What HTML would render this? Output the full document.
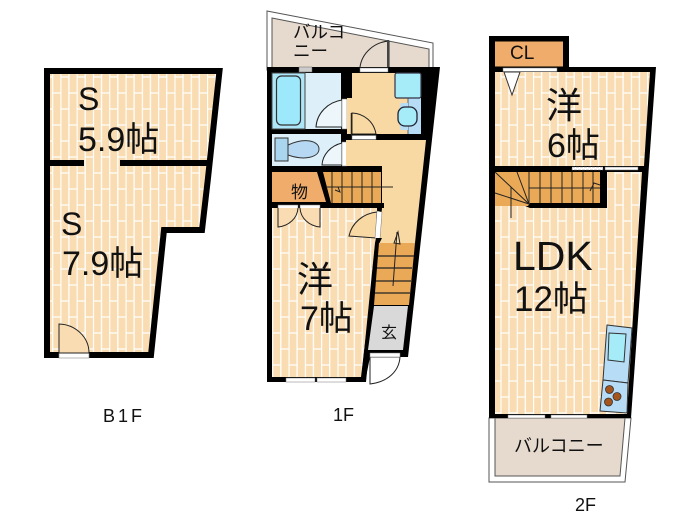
<!DOCTYPE html>
<html><head><meta charset="utf-8"><style>
html,body{margin:0;padding:0;background:#fff;width:700px;height:525px;overflow:hidden}
svg{display:block}
text{font-family:"Liberation Sans","Noto Sans CJK JP",sans-serif;fill:#111}
</style></head><body>
<svg width="700" height="525" viewBox="0 0 700 525" xmlns="http://www.w3.org/2000/svg">
<defs>
<pattern id="fl" width="16.3" height="32" patternUnits="userSpaceOnUse" x="44" y="69">
<rect width="16.3" height="32" fill="#f9dcb2"/>
<path d="M0.5 0V32M8.6 0V32" stroke="#fff" stroke-width="1.300"/>
<path d="M0 8H8.200M8.200 24H16.300" stroke="#fff" stroke-width="1.300"/>
</pattern>
</defs>

<!-- B1F -->
<path d="M47 71H219.500L208 178L202 230H164L151 355H47Z" fill="url(#fl)" stroke="#000" stroke-width="6"/>
<rect x="49" y="160" width="35" height="6" fill="#000"/>
<rect x="120" y="160" width="89" height="6" fill="#000"/>
<rect x="59" y="353" width="30" height="5" fill="#fff" stroke="#888" stroke-width=".6"/>
<path d="M59 353V324A31 29 0 0 1 89 353Z" fill="#f9dcb2" stroke="#222" stroke-width="1"/>
<text x="78" y="110" font-size="32">S</text>
<text x="78" y="151" font-size="34">5.9帖</text>
<text x="61" y="235" font-size="32">S</text>
<text x="62" y="275" font-size="34">7.9帖</text>
<text x="103" y="422" font-size="18" letter-spacing="3">B1F</text>

<!-- 1F balcony -->
<path d="M267 11L433 43V70H267Z" fill="#fff" stroke="#555" stroke-width="1"/>
<path d="M272 18L429 49V70H272Z" fill="#e6d9cd" stroke="#555" stroke-width="1"/>
<path d="M389 70V41A32 30 0 0 0 360 67" fill="#e6d9cd" stroke="#222" stroke-width="1"/>
<line x1="388" y1="40" x2="388" y2="68" stroke="#444" stroke-width="2"/>
<text x="293" y="38" font-size="17.500">バルコ</text>
<text x="293" y="57" font-size="17.500">ニー</text>

<!-- 1F body -->
<path d="M267 67H440L408 357H370L365 382H267Z" fill="#000"/>
<rect x="272" y="73" width="69" height="56" fill="#ddf0fa"/>
<rect x="272" y="73" width="33" height="56" fill="#aee6f8" stroke="#444" stroke-width="1"/>
<rect x="276.500" y="76" width="24" height="49" rx="5" fill="#9ee8fb" stroke="#333" stroke-width="1.200"/>
<rect x="299" y="67" width="13" height="5" fill="#ccc" stroke="#666" stroke-width=".5"/>
<path d="M342 100A31 29 0 0 0 316 127H342Z" fill="#ecf6fb" stroke="#222" stroke-width="1"/>
<rect x="342" y="99" width="5" height="30" fill="#fff" stroke="#777" stroke-width=".5"/>
<!-- hall upper -->
<path d="M352 73H421V134H347V98H352Z" fill="#f9d9a3"/>
<path d="M408 98H421V134H408Z" fill="#b7dcf5"/>
<rect x="395" y="73" width="26" height="25" rx="2" fill="#a6ecf8" stroke="#334" stroke-width="1.200"/>
<path d="M408 98V134" stroke="#445" stroke-width=".8"/>
<path d="M401 103H408V130H401Q396 117 401 103Z" fill="#b7dcf5"/>
<rect x="398" y="107" width="19" height="19" rx="7" fill="#a6ecf8" stroke="#223" stroke-width="1.300"/>
<path d="M352 134V113A25 25 0 0 1 376 134Z" fill="#f9d9a3" stroke="#222" stroke-width="1"/>
<rect x="352" y="135.500" width="24" height="4" fill="#fff" stroke="#777" stroke-width=".5"/>
<line x1="351.500" y1="113" x2="351.500" y2="136" stroke="#222" stroke-width="1.500"/>
<rect x="360" y="68" width="28" height="4" fill="#fff" stroke="#777" stroke-width=".5"/>
<!-- WC -->
<rect x="272" y="134" width="69" height="32" fill="#ddf0fa"/>
<rect x="275" y="138" width="13" height="23" fill="#a9d5ef" stroke="#333" stroke-width="1"/>
<path d="M288 145C305 137 319 141 319 149C319 157 305 161 288 155Z" fill="#b6d8f3" stroke="#333" stroke-width="1"/>
<path d="M342 143A27 24 0 0 0 322 165H342Z" fill="#ecf6fb" stroke="#222" stroke-width="1"/>
<rect x="342" y="142" width="4.500" height="24" fill="#fff" stroke="#777" stroke-width=".5"/>
<!-- hall main -->
<path d="M346 140H426L415 243H379L382 208V166H346Z" fill="#f9d9a3"/>
<!-- closet 物 -->
<path d="M272 172H317L326 202H272Z" fill="#f0ac6a"/>
<text x="291" y="198" font-size="17">物</text>
<!-- upper stairs -->
<path d="M323 172H381V203H331Z" fill="#eaa957"/>
<g stroke="#222" stroke-width="1"><path d="M332 172V203M342 172V203M352 172V203M362 172V203M372 172V203"/><path d="M326 187H393"/><path d="M335 190L340 192L338 187" fill="none"/></g>
<rect x="317" y="203" width="67" height="5" fill="#000"/>
<!-- 7 room -->
<path d="M272 208H377V243L361 377H272Z" fill="url(#fl)"/>
<rect x="278" y="205" width="20" height="3.500" fill="#fff" stroke="#777" stroke-width=".5"/>
<rect x="300" y="205" width="20" height="3.500" fill="#fff" stroke="#777" stroke-width=".5"/>
<path d="M278 208V227A22 20 0 0 0 298 208M320 208V227A22 20 0 0 1 300 208" fill="#f9dcb2" stroke="#222" stroke-width="1"/>
<path d="M377 212A32 30 0 0 0 349 236L376 238Z" fill="#f9d9a3" stroke="#222" stroke-width="1"/>
<path d="M377 211L382 212L380 239L375 238Z" fill="#fff" stroke="#777" stroke-width=".5"/>
<path d="M382 238L379.500 243L366 382H361L375 243L376 238Z" fill="#000"/>
<!-- lower stairs -->
<path d="M379 243H415L409 305H374Z" fill="#eaa957"/>
<g stroke="#222" stroke-width="1.300"><path d="M378 256H414M377 268H412M376 281H411M375 293H410"/></g>
<path d="M393 286L397 232" stroke="#222" stroke-width="1"/>
<path d="M394 243L398 232L400 244Z" fill="none" stroke="#222" stroke-width="1"/>
<!-- genkan -->
<path d="M374 306H408L403 350H368Z" fill="#d9d9d9"/>
<text x="381" y="338" font-size="16">玄</text>
<path d="M370 357H400C399 372 387 382 370 384Z" fill="#fff" stroke="#222" stroke-width="1"/>
<rect x="370" y="353" width="30" height="4" fill="#fff" stroke="#777" stroke-width=".5"/>
<rect x="286" y="378" width="29" height="4" fill="#fff" stroke="#777" stroke-width=".5"/>
<rect x="317" y="378" width="29" height="4" fill="#fff" stroke="#777" stroke-width=".5"/>
<text x="297" y="292" font-size="36">洋</text>
<text x="300" y="330" font-size="34">7帖</text>
<text x="333" y="421" font-size="18">1F</text>

<!-- 2F balcony -->
<path d="M489 418V482H625L631 418Z" fill="#fff" stroke="#555" stroke-width="1"/>
<path d="M495 418V476H620L625 418Z" fill="#e6d9cd" stroke="#555" stroke-width="1"/>
<text x="514" y="452" font-size="18">バルコニー</text>
<!-- 2F body -->
<path d="M489 36H569V67H656L631 418H489Z" fill="#000"/>
<rect x="495" y="41.500" width="68" height="25" fill="#f0ac6a"/>
<text x="510" y="59" font-size="19">CL</text>
<path d="M495 72H650L644 166H495Z" fill="url(#fl)"/>
<rect x="503" y="68" width="54" height="3.500" fill="#fff" stroke="#777" stroke-width=".5"/>
<path d="M504 72H520L512 95Z" fill="#fff" stroke="#333" stroke-width="1"/>
<path d="M495 172H642L627 414H495Z" fill="url(#fl)"/>
<rect x="572" y="167" width="31" height="3" fill="#fff" stroke="#666" stroke-width=".5" stroke-dasharray="3 1"/>
<rect x="605" y="167" width="33" height="3" fill="#fff" stroke="#666" stroke-width=".5"/>
<!-- 2F stairs -->
<path d="M494 171H607V208H530L525 206H494Z" fill="#000"/>
<path d="M495 172H600V203H530L528 206H495Z" fill="#eaa957"/>
<g stroke="#222" stroke-width="1"><path d="M529 172V204M540 172V203M551 172V203M562 172V203M572 172V203M583 172V203M593 172V203"/><path d="M529 188H600"/><path d="M495 172L529 204M495 193L529 204M517 172L529 204"/><path d="M511 187V218"/><path d="M590 191L594 183L600 185" fill="none"/></g>
<!-- kitchen -->
<path d="M607 325L632 328L628 383L603 380Z" fill="#b7dcf5" stroke="#333" stroke-width="1"/>
<path d="M609 333L626 334L624 362L608 360Z" fill="#a6ecf8" stroke="#333" stroke-width="1"/>
<path d="M603 380L628 383L627 413L600 411Z" fill="#b7dcf5" stroke="#333" stroke-width="1"/>
<circle cx="609.500" cy="389.500" r="4" fill="#a5561c" stroke="#333" stroke-width=".8"/>
<circle cx="617" cy="396.500" r="4" fill="#a5561c" stroke="#333" stroke-width=".8"/>
<circle cx="608.500" cy="402" r="4" fill="#a5561c" stroke="#333" stroke-width=".8"/>
<rect x="508" y="415" width="37" height="3" fill="#fff" stroke="#777" stroke-width=".5"/>
<rect x="551" y="415" width="36" height="3" fill="#fff" stroke="#777" stroke-width=".5"/>
<text x="546" y="118" font-size="36">洋</text>
<text x="547" y="157" font-size="34">6帖</text>
<text x="513" y="270" font-size="41">LDK</text>
<text x="514" y="311" font-size="35">12帖</text>
<text x="575" y="511" font-size="18">2F</text>
</svg>
</body></html>
